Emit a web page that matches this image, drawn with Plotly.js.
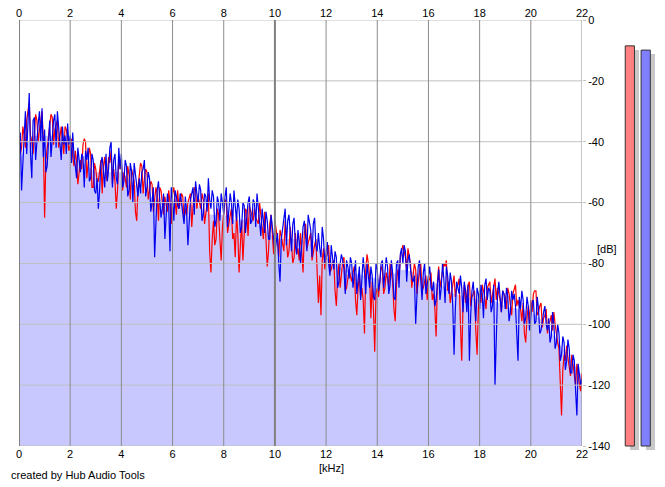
<!DOCTYPE html>
<html>
<head>
<meta charset="utf-8">
<script src="https://cdn.plot.ly/plotly-3.0.1.min.js"></script>
<style>
html,body{margin:0;padding:0;background:#fff;}
#chart{width:665px;height:487px;}
</style>
</head>
<body>
<div id="chart"></div>
<script>
// ---- data ----
const freqStep = 0.1; // kHz between on-grid samples; mid samples sit halfway
const blueDb = [
-40,-56,-35,-44,-24,-52,-32,-38,-30,-29,
-36,-48,-33,-37,-31,-30,-43,-35,-38,-34,
-38,-37,-48,-42,-50,-45,-43,-42,-52,-46,
-57,-62,-47,-51,-44,-49,-40,-46,-52,-42,
-44,-53,-48,-56,-50,-47,-55,-52,-50,-46,
-55,-52,-60,-78,-56,-58,-62,-72,-57,-76,
-59,-56,-61,-57,-63,-58,-74,-59,-55,-53,
-60,-56,-64,-58,-52,-62,-58,-66,-60,-57,
-64,-55,-63,-60,-56,-66,-62,-68,-61,-64,
-58,-66,-60,-57,-65,-62,-70,-66,-72,-68,
-76,-70,-86,-68,-62,-66,-72,-67,-74,-69,
-80,-68,-72,-64,-69,-67,-74,-70,-78,-72,
-76,-80,-74,-82,-78,-86,-77,-82,-79,-85,
-80,-84,-90,-81,-86,-83,-80,-88,-84,-92,
-82,-86,-79,-84,-81,-87,-83,-92,-79,-77,
-80,-76,-79,-82,-86,-100,-81,-85,-83,-90,
-84,-88,-86,-92,-82,-88,-85,-81,-90,-86,
-110,-86,-90,-88,-86,-96,-112,-89,-92,-88,
-95,-90,-87,-92,-89,-94,-120,-90,-93,-89,
-95,-91,-96,-92,-94,-112,-95,-92,-98,-94,
-96,-92,-99,-95,-102,-96,-100,-98,-104,-100,
-106,-103,-110,-106,-112,-108,-116,-112,-130,-116,
-118
];
const blueMidDb = [
-37,-47,-30,-36,-44,-33,-46,-34,-40,-45,
-50,-38,-45,-33,-42,-36,-46,-41,-44,-41,
-47,-45,-52,-47,-44,-55,-46,-53,-44,-56,
-52,-56,-45,-55,-53,-42,-55,-44,-54,-49,
-55,-46,-58,-47,-60,-51,-58,-57,-49,-58,
-50,-63,-55,-66,-53,-65,-57,-66,-61,-55,
-66,-58,-62,-60,-67,-63,-66,-57,-64,-57,
-54,-66,-57,-63,-59,-56,-68,-58,-66,-60,
-58,-68,-57,-67,-61,-59,-70,-60,-70,-60,
-67,-59,-68,-61,-71,-67,-63,-72,-64,-74,
-73,-80,-72,-65,-74,-64,-76,-65,-77,-73,
-72,-66,-76,-67,-78,-65,-76,-75,-68,-80,
-73,-84,-79,-76,-88,-80,-79,-90,-81,-78,
-88,-79,-84,-92,-78,-90,-84,-81,-91,-80,
-89,-80,-88,-78,-90,-79,-91,-80,-88,-75,
-74,-86,-77,-85,-84,-90,-79,-92,-80,-87,
-81,-89,-94,-86,-92,-80,-93,-84,-83,-94,
-95,-88,-84,-96,-89,-87,-97,-86,-99,-90,
-87,-98,-85,-88,-96,-87,-100,-86,-96,-90,
-88,-99,-89,-90,-102,-91,-89,-100,-91,-102,
-93,-100,-91,-103,-98,-94,-102,-106,-96,-108,
-100,-112,-104,-115,-105,-116,-110,-122,-113,-120
];
const redDb = [
-36,-42,-38,-33,-27,-40,-35,-33,-36,-30,
-65,-42,-35,-32,-36,-33,-38,-40,-35,-39,
-41,-45,-43,-54,-46,-41,-40,-47,-44,-55,
-49,-53,-46,-48,-51,-45,-43,-49,-62,-45,
-47,-50,-55,-51,-49,-53,-66,-50,-48,-52,
-50,-56,-54,-59,-57,-55,-60,-58,-63,-60,
-57,-59,-56,-60,-58,-62,-60,-57,-59,-56,
-58,-62,-59,-63,-57,-83,-66,-72,-64,-79,
-62,-60,-67,-62,-70,-64,-83,-66,-72,-63,
-61,-64,-62,-66,-60,-68,-63,-81,-67,-70,
-66,-72,-69,-74,-66,-78,-68,-80,-70,-75,
-70,-83,-67,-73,-70,-76,-72,-93,-97,-75,
-78,-74,-82,-79,-94,-80,-84,-78,-88,-82,
-86,-81,-97,-84,-88,-103,-77,-84,-86,-109,
-88,-84,-82,-88,-85,-80,-86,-99,-82,-78,
-74,-78,-75,-80,-84,-82,-86,-80,-88,-84,
-86,-83,-90,-104,-81,-85,-80,-79,-86,-90,
-84,-88,-85,-112,-87,-90,-86,-91,-89,-110,
-90,-87,-91,-88,-86,-90,-85,-88,-92,-89,
-91,-88,-93,-90,-87,-92,-95,-93,-106,-94,
-92,-90,-89,-96,-93,-98,-95,-100,-97,-96,
-104,-108,-130,-110,-107,-114,-110,-117,-113,-120,
-116
];
const redMidDb = [
-44,-35,-42,-29,-38,-44,-31,-40,-32,-39,
-46,-38,-31,-41,-34,-42,-35,-44,-36,-43,
-39,-48,-47,-50,-49,-39,-52,-42,-55,-47,
-53,-49,-57,-45,-53,-47,-54,-53,-56,-49,
-56,-52,-48,-59,-51,-63,-55,-47,-57,-49,
-59,-53,-63,-55,-66,-56,-64,-61,-56,-67,
-55,-64,-62,-57,-66,-64,-58,-68,-55,-62,
-60,-57,-67,-60,-76,-72,-74,-62,-72,-68,
-59,-70,-65,-72,-78,-70,-74,-79,-62,-71,
-63,-66,-65,-67,-64,-72,-72,-76,-64,-77,
-69,-78,-71,-76,-72,-76,-74,-78,-77,-79,
-76,-70,-75,-72,-79,-74,-86,-84,-79,-82,
-77,-83,-80,-89,-85,-88,-79,-89,-85,-84,
-83,-92,-88,-91,-92,-82,-80,-98,-95,-90,
-91,-81,-90,-83,-88,-83,-95,-87,-85,-76,
-76,-82,-78,-88,-80,-90,-83,-89,-86,-92,
-85,-92,-95,-86,-88,-82,-81,-89,-93,-86,
-91,-87,-100,-94,-93,-87,-94,-90,-102,-95,
-93,-89,-95,-87,-93,-87,-92,-90,-96,-90,
-95,-90,-97,-88,-94,-94,-99,-103,-98,-99,
-96,-89,-97,-94,-101,-97,-103,-99,-102,-100,
-106,-118,-115,-112,-111,-117,-114,-120,-117,-122
];
const fillFreq = [0,0.5,1,1.5,2,2.5,3,3.5,4,4.5,5,5.5,6,6.5,7,7.5,8,8.5,9,9.5,10,10.5,11,11.5,12,12.5,13,13.5,14,14.5,15,15.5,16,16.5,17,17.5,18,18.5,19,19.5,20,20.5,21,21.5,22];
const fillDb = [-46,-38,-38,-38,-42,-47,-50,-50,-50,-54,-57,-60,-60,-61,-61,-64,-64,-66,-65,-68,-72,-72,-72,-74,-78,-81,-83,-84,-85,-84,-82,-83,-86,-87,-90,-91,-92,-92,-94,-95,-96,-99,-105,-111,-117];
const meterChannels = ["L","R"];
const meterLevels = [-8.5, -9.9];
const xTicks = [0,2,4,6,8,10,12,14,16,18,20,22];
const yTicks = [0,-20,-40,-60,-80,-100,-120,-140];
const dbFloor = -140;

// ---- build: interleave on-grid and mid samples ----
function interleave(grid, mid) {
  const xs = [], ys = [];
  grid.forEach((v, i) => {
    xs.push(+(i * freqStep).toFixed(3)); ys.push(v);
    if (i < mid.length) { xs.push(+((i + 0.5) * freqStep).toFixed(3)); ys.push(mid[i]); }
  });
  return {xs, ys};
}
const blue = interleave(blueDb, blueMidDb);
const red = interleave(redDb, redMidDb);

// geometry (pixels -> paper)
const W = 665, H = 487;
const mL = 19, mR = 5, mT = 20, mB = 30;
const pw = W - mL - mR, ph = H - mT - mB;
const px = x => (x - mL) / pw;
const py = y => (H - mB - y) / ph;
const mainRight = 582, mainBottom = 446;

const font = {family: "Liberation Sans, Arial, sans-serif", size: 11, color: "#000"};

const traces = [
  {x: [0, 22], y: [dbFloor, dbFloor], mode: "lines", line: {width: 0, color: "rgba(0,0,0,0)"},
   hoverinfo: "skip", showlegend: false, xaxis: "x", yaxis: "y"},
  {x: fillFreq, y: fillDb, mode: "lines", fill: "tonexty", fillcolor: "#c8c8ff",
   line: {width: 0, color: "#c8c8ff"}, hoverinfo: "skip", showlegend: false, xaxis: "x", yaxis: "y"},
  {x: red.xs, y: red.ys, mode: "lines", line: {color: "#ff0000", width: 1.2},
   showlegend: false, xaxis: "x", yaxis: "y"},
  {x: blue.xs, y: blue.ys, mode: "lines", line: {color: "#0000ee", width: 1.2},
   showlegend: false, xaxis: "x", yaxis: "y"},
  {x: [0, 22], y: [dbFloor, dbFloor], mode: "lines", line: {width: 0, color: "rgba(0,0,0,0)"},
   hoverinfo: "skip", showlegend: false, xaxis: "x3", yaxis: "y"}
];

// level meter: shadow then bar
const shadowDy = 4 / 3.043;
traces.push({
  type: "bar", x: [0, 1], y: meterLevels.map(v => v - dbFloor),
  base: dbFloor - shadowDy, width: 0.58, offset: -0.007,
  marker: {color: "#c8c8c8", line: {width: 0}}, hoverinfo: "skip", showlegend: false,
  xaxis: "x2", yaxis: "y2"
});
traces.push({
  type: "bar", x: [0, 1], y: meterLevels.map(v => v - dbFloor), base: dbFloor,
  width: 0.58, offset: -0.29, text: meterChannels, textposition: "none",
  marker: {color: ["#ff8080", "#8080ff"], line: {width: 1, color: "#333"}},
  hoverinfo: "skip", showlegend: false, xaxis: "x2", yaxis: "y2"
});

const shapes = [];
yTicks.forEach(t => shapes.push({type: "line", xref: "x", yref: "y", x0: 0, x1: 22, y0: t, y1: t,
  line: {color: "#c0c0c0", width: 1}, layer: "above"}));
xTicks.forEach(t => shapes.push({type: "line", xref: "x", yref: "y", x0: t, x1: t, y0: dbFloor, y1: 0,
  line: {color: (t === 0 || t === 10) ? "#808080" : "#8c8c8c", width: (t === 0 || t === 10) ? 2 : 1}, layer: "above"}));

const layout = {
  width: W, height: H,
  margin: {l: mL, r: mR, t: mT, b: mB, pad: 0},
  paper_bgcolor: "#fff", plot_bgcolor: "rgba(0,0,0,0)",
  font: font,
  showlegend: false,
  bargap: 0,
  xaxis: {domain: [0, px(mainRight)], range: [0, 22], tickvals: xTicks, ticktext: xTicks.map(String),
    showgrid: false, zeroline: false, showline: false, ticks: "", tickfont: font, anchor: "y", fixedrange: true},
  xaxis3: {overlaying: "x", side: "top", range: [0, 22], tickvals: xTicks, ticktext: xTicks.map(String),
    showgrid: false, zeroline: false, showline: false, ticks: "", tickfont: font, anchor: "y", fixedrange: true},
  yaxis: {domain: [py(mainBottom), 1], range: [dbFloor, 0], tickvals: yTicks, ticktext: yTicks.map(String),
    side: "right", showgrid: false, zeroline: false, showline: false, ticks: "outside", ticklen: 3,
    tickcolor: "#c0c0c0", tickfont: font, anchor: "x", fixedrange: true},
  xaxis2: {domain: [px(620.3), 1], range: [-0.6, 1.9], visible: false, anchor: "y2", fixedrange: true},
  yaxis2: {domain: [0, 1], range: [dbFloor - (H - mB - mainBottom) / 3.043, 0], visible: false, anchor: "x2", fixedrange: true},
  shapes: shapes,
  annotations: [
    {text: "[dB]", xref: "paper", yref: "paper", x: px(607), y: py(249), showarrow: false, font: font, xanchor: "center", yanchor: "middle"},
    {text: "[kHz]", xref: "paper", yref: "paper", x: px(331), y: py(468), showarrow: false, font: font, xanchor: "center", yanchor: "middle"},
    {text: "created by Hub Audio Tools", xref: "paper", yref: "paper", x: px(9), y: py(475), showarrow: false, font: font, xanchor: "left", yanchor: "middle"}
  ]
};

Plotly.newPlot("chart", traces, layout, {displayModeBar: false, staticPlot: true});
</script>
</body>
</html>
